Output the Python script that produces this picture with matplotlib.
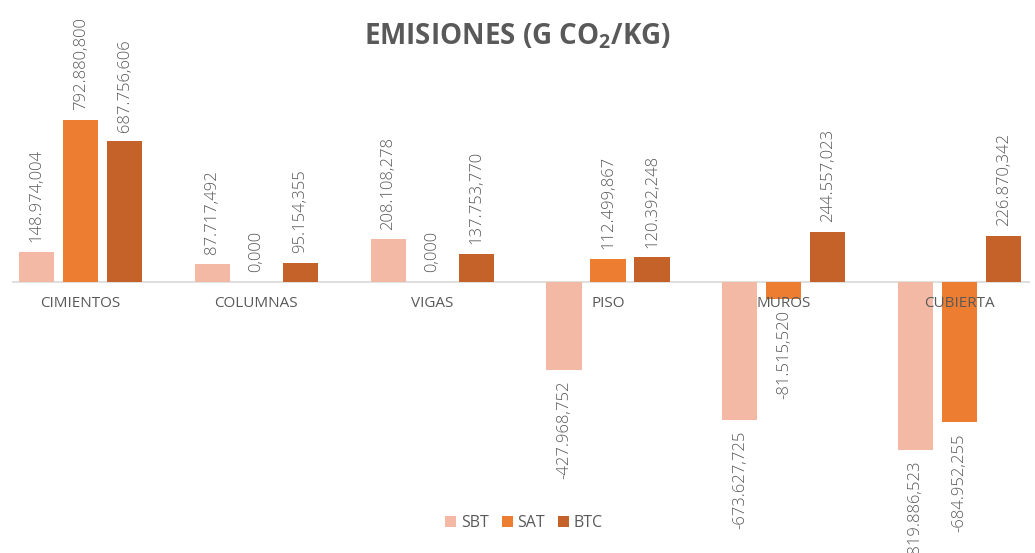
import numpy as np
import matplotlib
matplotlib.use("Agg")
import matplotlib.pyplot as plt

plt.rcParams['font.family'] = ['Open Sans', 'DejaVu Sans']
plt.rcParams['mathtext.default'] = 'regular'

categorias = ['CIMIENTOS', 'COLUMNAS', 'VIGAS', 'PISO', 'MUROS', 'CUBIERTA']
series = ['SBT', 'SAT', 'BTC']
sbt = [148974.004, 87717.492, 208108.278, -427968.752, -673627.725, -819886.523]
sat = [792880.800, 0.000, 0.000, 112499.867, -81515.520, -684952.255]
btc = [687756.606, 95154.355, 137753.770, 120392.248, 244557.023, 226870.342]
colores = ['#F4B9A4', '#ED7D31', '#C4622A']
gris = '#595959'


def fmt_es(v):
    s = f"{v:,.3f}"
    return s.replace(',', '#').replace('.', ',').replace('#', '.')


fig = plt.figure(figsize=(10.35, 5.53), dpi=100)
ax = fig.add_axes([12 / 1035, 93 / 553, 1018 / 1035, 360 / 553])

x = np.arange(len(categorias))
ancho = 0.2
paso = 0.25
for k, (nombre, vals, col) in enumerate(zip(series, [sbt, sat, btc], colores)):
    pos = x + (k - 1) * paso
    ax.bar(pos, vals, width=ancho, color=col, label=nombre, zorder=2)
    for xi, v in zip(pos, vals):
        if v >= 0:
            ax.annotate(fmt_es(v), (xi, v), xytext=(0, 7), textcoords='offset points',
                        rotation=90, ha='center', va='bottom', fontsize=12,
                        color=gris, fontweight='light')
        else:
            # la etiqueta mas baja sale del lienzo igual que en el original
            ax.annotate(fmt_es(v), (xi, v), xytext=(0, -8), textcoords='offset points',
                        rotation=90, ha='center', va='top', fontsize=12,
                        color=gris, fontweight='light', annotation_clip=False)

ax.axhline(0, color='#D9D9D9', linewidth=1.2, zorder=1)
for xi, cat in zip(x, categorias):
    ax.annotate(cat, (xi, 0), xytext=(0, -10), textcoords='offset points',
                ha='center', va='top', fontsize=11, color=gris, zorder=5)

ax.set_xlim(-0.39, 5.4)
ax.set_ylim(-870000, 890000)
ax.axis('off')

fig.text(0.5, 0.935, 'EMISIONES (G CO$_2$/KG)', ha='center', va='center',
         fontsize=20, fontweight='bold', color=gris)

fig.legend(loc='center', bbox_to_anchor=(524 / 1035, 1 - 523 / 553), ncol=3,
           frameon=False, fontsize=11.5, labelcolor=gris, handlelength=0.7,
           handleheight=0.7, handletextpad=0.3, columnspacing=0.8)

plt.savefig('out.png', dpi=100)
